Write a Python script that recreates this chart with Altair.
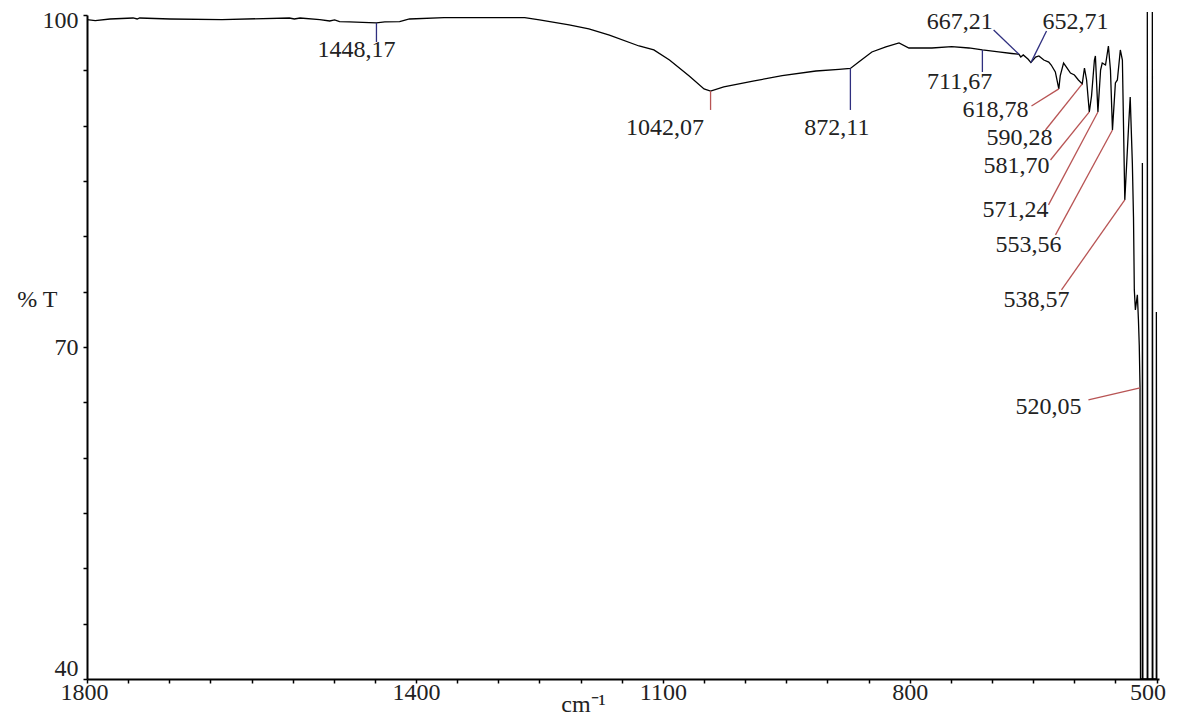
import altair as alt
import pandas as pd

# ---- spectrum (wavenumber cm-1, %T) ----
wavenumber = [1800, 1790, 1772, 1744, 1739, 1736, 1699, 1636, 1554, 1548, 1541, 1517, 1505, 1499,
              1493, 1481, 1457, 1448.17, 1438, 1420, 1408, 1366, 1268, 1250, 1214, 1190, 1165,
              1129, 1111, 1092, 1068, 1050, 1042.07, 1026, 989, 955, 914, 886, 872.11, 862, 846,
              829, 813, 801, 773, 749, 728, 711.67, 692, 676, 667.21, 665, 662, 656, 652.71, 647,
              643, 637, 631, 628, 623, 618.78, 617, 613, 609.5, 604.6, 599.8, 595, 590.28, 587.6,
              585, 581.70, 579, 575.5, 574.3, 571.24, 568, 566, 562, 558.5, 556, 553.56, 550,
              547.6, 544, 541.5, 538.57, 534, 532, 529.4, 528, 527, 525.7, 523.3, 522, 521,
              520.05, 519.5, 517.3, 517.2, 516.6, 511.3, 511.2, 510.6, 505.2, 505.1, 504.5,
              500.3, 500.2, 499.7]
transmittance = [99.59, 99.50, 99.64, 99.73, 99.64, 99.73, 99.64, 99.59, 99.73, 99.64, 99.73, 99.59,
                 99.46, 99.55, 99.41, 99.37, 99.32, 99.28, 99.37, 99.41, 99.64, 99.77, 99.77, 99.55,
                 99.10, 98.74, 98.19, 97.20, 96.84, 95.93, 94.49, 93.32, 93.13, 93.50, 94.04, 94.53,
                 94.94, 95.08, 95.17, 95.75, 96.66, 97.11, 97.47, 97.02, 97.02, 97.15, 97.02, 96.84,
                 96.66, 96.52, 96.45, 96.21, 96.39, 96.00, 95.70, 96.20, 96.30, 95.93, 95.75, 95.48,
                 94.85, 93.32, 94.53, 95.66, 95.30, 94.76, 94.58, 94.13, 93.77, 95.21, 94.13, 91.24,
                 92.68, 95.93, 96.30, 91.24, 95.03, 95.66, 95.48, 97.20, 95.03, 89.61, 93.86, 94.13,
                 96.84, 95.93, 83.29, 89.88, 92.59, 86.63, 81.75, 75.16, 73.35, 74.71, 72.45, 70.19,
                 66.31, 40.0, 40.0, 86.63, 40.0, 40.0, 100.27, 40.0, 40.0, 100.27, 40.0,
                 40.0, 73.17, 40.0]

# ---- labelled peaks ----
peak_wn = [1448.17, 1042.07, 872.11, 711.67, 667.21, 652.71, 618.78, 590.28, 581.70, 571.24,
           553.56, 538.57, 520.05]
peak_T = [99.28, 93.13, 95.17, 96.84, 96.45, 95.70, 93.32, 93.77, 91.24, 91.24, 89.61, 83.29, 66.31]
peak_kind = ["blue", "red", "blue", "blue", "blue", "blue", "red", "red", "red", "red", "red",
             "red", "red"]

# annotation layout: text centre and leader-line end (data units)
label_wn = [1472.3, 1097.3, 888.6, 739.3, 739.3, 598.5, 695.6, 666.5, 670.1, 671.3, 655.6,
            645.9, 631.3]
label_T = [96.84, 89.79, 89.79, 93.95, 99.37, 99.37, 91.42, 88.89, 86.36, 82.39, 79.22, 74.25,
           64.59]
leader_wn = [1448.17, 1042.07, 872.11, 711.67, 698.0, 633.7, 652.0, 635.0, 628.9, 631.3, 622.8,
             615.5, 582.8]
leader_T = [97.56, 91.42, 91.42, 94.85, 98.64, 98.55, 91.78, 89.61, 86.90, 82.84, 80.13, 75.16,
            65.22]

kind_color = {"blue": "#2f2f7f", "red": "#b85454"}

spec_df = pd.DataFrame({"wn": wavenumber, "T": transmittance, "i": range(len(wavenumber))})
rule_df = pd.DataFrame({"wn": peak_wn, "T": peak_T, "wn2": leader_wn, "T2": leader_T,
                        "col": [kind_color[k] for k in peak_kind]})
text_df = pd.DataFrame({"wn": label_wn, "T": label_T,
                        "label": [f"{v:.2f}".replace(".", ",") for v in peak_wn]})

FONT = "Liberation Serif"

xscale = alt.Scale(domain=[497, 1800], reverse=True, nice=False, zero=False)
yscale = alt.Scale(domain=[40, 100], nice=False, zero=False)

xaxis = alt.Axis(
    values=list(range(500, 1801, 50)), format="d",
    labelExpr="(datum.value==1800||datum.value==1400||datum.value==1100||datum.value==800||datum.value==500) ? datum.label : ''",
    grid=False, domainColor="black", domainWidth=2, tickColor="black", tickWidth=1.5,
    tickSize=4, labelFont=FONT, labelFontSize=24, labelColor="#222", labelPadding=-3,
    labelOverlap=False, labelFlush=False,
    labelOffset={"condition": [{"test": "datum.value == 1800", "value": -3},
                               {"test": "datum.value == 500", "value": -9}], "value": 0},
    title="cm⁻¹", titleFont=FONT, titleFontSize=24, titleFontWeight="normal", titleColor="#222",
    titleX=496, titleY=25, titleAlign="center", titleBaseline="middle",
)
yaxis = alt.Axis(
    values=list(range(40, 101, 5)),
    labelExpr="(datum.value==40||datum.value==70||datum.value==100) ? datum.label : ''",
    grid=False, domainColor="black", domainWidth=2, tickColor="black", tickWidth=1.5,
    tickSize=4, labelFont=FONT, labelFontSize=24, labelColor="#222", labelPadding=5,
    labelOverlap=False, labelFlush=False, labelBaseline="middle",
    labelOffset={"condition": [{"test": "datum.value == 100", "value": 5},
                               {"test": "datum.value == 40", "value": -11}], "value": 0},
    title="% T", titleFont=FONT, titleFontSize=24, titleFontWeight="normal", titleColor="#222",
    titleAngle=0, titleX=-30, titleY=284, titleAlign="right", titleBaseline="middle",
)

line = alt.Chart(spec_df).mark_line(color="black", strokeWidth=1.3, clip=False).encode(
    x=alt.X("wn:Q", scale=xscale, axis=xaxis),
    y=alt.Y("T:Q", scale=yscale, axis=yaxis),
    order=alt.Order("i:Q"),
)

rules = alt.Chart(rule_df).mark_rule(strokeWidth=1.3).encode(
    x=alt.X("wn:Q"), y=alt.Y("T:Q"), x2="wn2:Q", y2="T2:Q",
    color=alt.Color("col:N", scale=None),
)

texts = alt.Chart(text_df).mark_text(font=FONT, fontSize=24, color="#222", align="center",
                                     baseline="middle").encode(
    x=alt.X("wn:Q"), y=alt.Y("T:Q"), text="label:N",
)

chart = alt.layer(line, rules, texts).properties(
    width=1072, height=664, autosize="none",
    padding={"left": 79, "top": 7, "right": 12, "bottom": 37},
    background="white",
).configure_view(stroke=None)

chart.save("out.html", embed_options={"renderer": "svg", "actions": False})
